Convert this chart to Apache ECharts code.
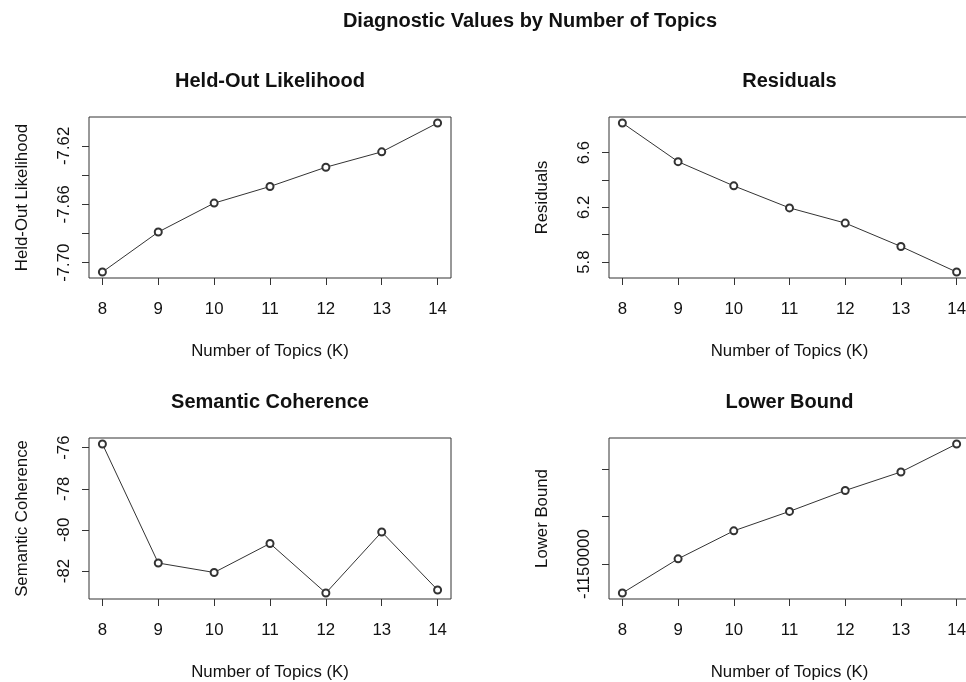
<!DOCTYPE html>
<html><head><meta charset="utf-8">
<script src="https://cdn.jsdelivr.net/npm/echarts@6/dist/echarts.min.js"></script>
<style>html,body{margin:0;padding:0;background:#fff}#c{width:966px;height:682px}</style>
</head><body><div id="c"></div>
<script>
// ---- data ----
const topics = [8, 9, 10, 11, 12, 13, 14];
const heldout = [-7.7064, -7.6790, -7.6592, -7.6478, -7.6346, -7.6241, -7.6043];
const residuals = [6.817, 6.534, 6.357, 6.196, 6.085, 5.914, 5.727];
const semcoh = [-75.82, -81.61, -82.07, -80.66, -83.07, -80.10, -82.92];
const lbound = [-1150610, -1149890, -1149300, -1148890, -1148450, -1148060, -1147470];

const xTicks = [8, 9, 10, 11, 12, 13, 14];
const heldoutTicks = [-7.70, -7.68, -7.66, -7.64, -7.62];
const heldoutLabels = [-7.70, -7.66, -7.62];
const residTicks = [5.8, 6.0, 6.2, 6.4, 6.6];
const residLabels = [5.8, 6.2, 6.6];
const semTicks = [-82, -80, -78, -76];
const semLabels = [-82, -80, -78, -76];
const lbTicks = [-1150000, -1149000, -1148000];
const lbLabels = [-1150000];

const mainTitle = 'Diagnostic Values by Number of Topics';
const panelTitles = ['Held-Out Likelihood', 'Residuals', 'Semantic Coherence', 'Lower Bound'];
const yNames = ['Held-Out Likelihood', 'Residuals', 'Semantic Coherence', 'Lower Bound'];
const xName = 'Number of Topics (K)';

// ---- layout ----
const FONT = 'Liberation Sans, Arial, sans-serif';
const TXT = '#111';
const BOX = '#333';
const FS = 16.8;
const grids = [
  {left: 89, top: 117, width: 362, height: 161},
  {left: 609, top: 117, width: 361, height: 161},
  {left: 89, top: 438, width: 362, height: 161},
  {left: 609, top: 438, width: 361, height: 161}
];
const panels = [
  {vals: heldout, ticks: heldoutTicks, labels: heldoutLabels, fmt: v => v.toFixed(2)},
  {vals: residuals, ticks: residTicks, labels: residLabels, fmt: v => v.toFixed(1)},
  {vals: semcoh, ticks: semTicks, labels: semLabels, fmt: v => String(Math.round(v))},
  {vals: lbound, ticks: lbTicks, labels: lbLabels, fmt: v => String(Math.round(v))}
];

function padRange(arr) {
  const mn = Math.min(...arr), mx = Math.max(...arr);
  const p = (mx - mn) * 0.04;
  return [mn - p, mx + p];
}
const xr = padRange(topics);

const titles = [{
  text: mainTitle, left: 530, top: 11, padding: 0, textAlign: 'center',
  textStyle: {fontFamily: FONT, fontSize: 20, fontWeight: 'bold', color: TXT}
}];
panelTitles.forEach((t, i) => {
  const g = grids[i];
  titles.push({
    text: t, left: g.left + g.width / 2, top: g.top - 46, padding: 0, textAlign: 'center',
    textStyle: {fontFamily: FONT, fontSize: 20, fontWeight: 'bold', color: TXT}
  });
});

const xAxes = [], yAxes = [], series = [];
panels.forEach((p, i) => {
  xAxes.push({
    gridIndex: i, type: 'value', min: xr[0], max: xr[1],
    name: xName, nameLocation: 'middle', nameGap: 65,
    nameTextStyle: {fontFamily: FONT, fontSize: FS, color: TXT},
    axisLine: {show: false},
    splitLine: {show: false},
    axisTick: {show: true, inside: false, length: 7, customValues: xTicks, lineStyle: {color: BOX, width: 1}},
    axisLabel: {show: true, customValues: xTicks, margin: 23, fontFamily: FONT, fontSize: FS, color: TXT,
      formatter: v => String(v)}
  });
  const yr = padRange(p.vals);
  yAxes.push({
    gridIndex: i, type: 'value', min: yr[0], max: yr[1],
    name: yNames[i], nameLocation: 'middle', nameGap: 58, nameRotate: 90,
    nameTextStyle: {fontFamily: FONT, fontSize: FS, color: TXT},
    axisLine: {show: false},
    splitLine: {show: false},
    axisTick: {show: true, inside: false, length: 7, customValues: p.ticks, lineStyle: {color: BOX, width: 1}},
    axisLabel: {show: true, customValues: p.labels, rotate: 90, margin: 16, fontFamily: FONT, fontSize: FS,
      color: TXT, formatter: p.fmt, hideOverlap: false}
  });
  series.push({
    type: 'line', xAxisIndex: i, yAxisIndex: i,
    data: topics.map((k, j) => [k, p.vals[j]]),
    symbol: 'emptyCircle', symbolSize: 7,
    lineStyle: {color: '#333', width: 1},
    itemStyle: {color: '#333', borderColor: '#333', borderWidth: 0.9},
    emphasis: {disabled: true}
  });
});

const chart = echarts.init(document.getElementById('c'), null, {renderer: 'canvas'});
chart.setOption({
  backgroundColor: '#fff',
  animation: false,
  title: titles,
  grid: grids.map(g => Object.assign({show: true, borderColor: BOX, borderWidth: 1, backgroundColor: 'transparent',
    containLabel: false, outerBoundsMode: 'none'}, g)),
  xAxis: xAxes,
  yAxis: yAxes,
  series: series
});
</script>
</body></html>
